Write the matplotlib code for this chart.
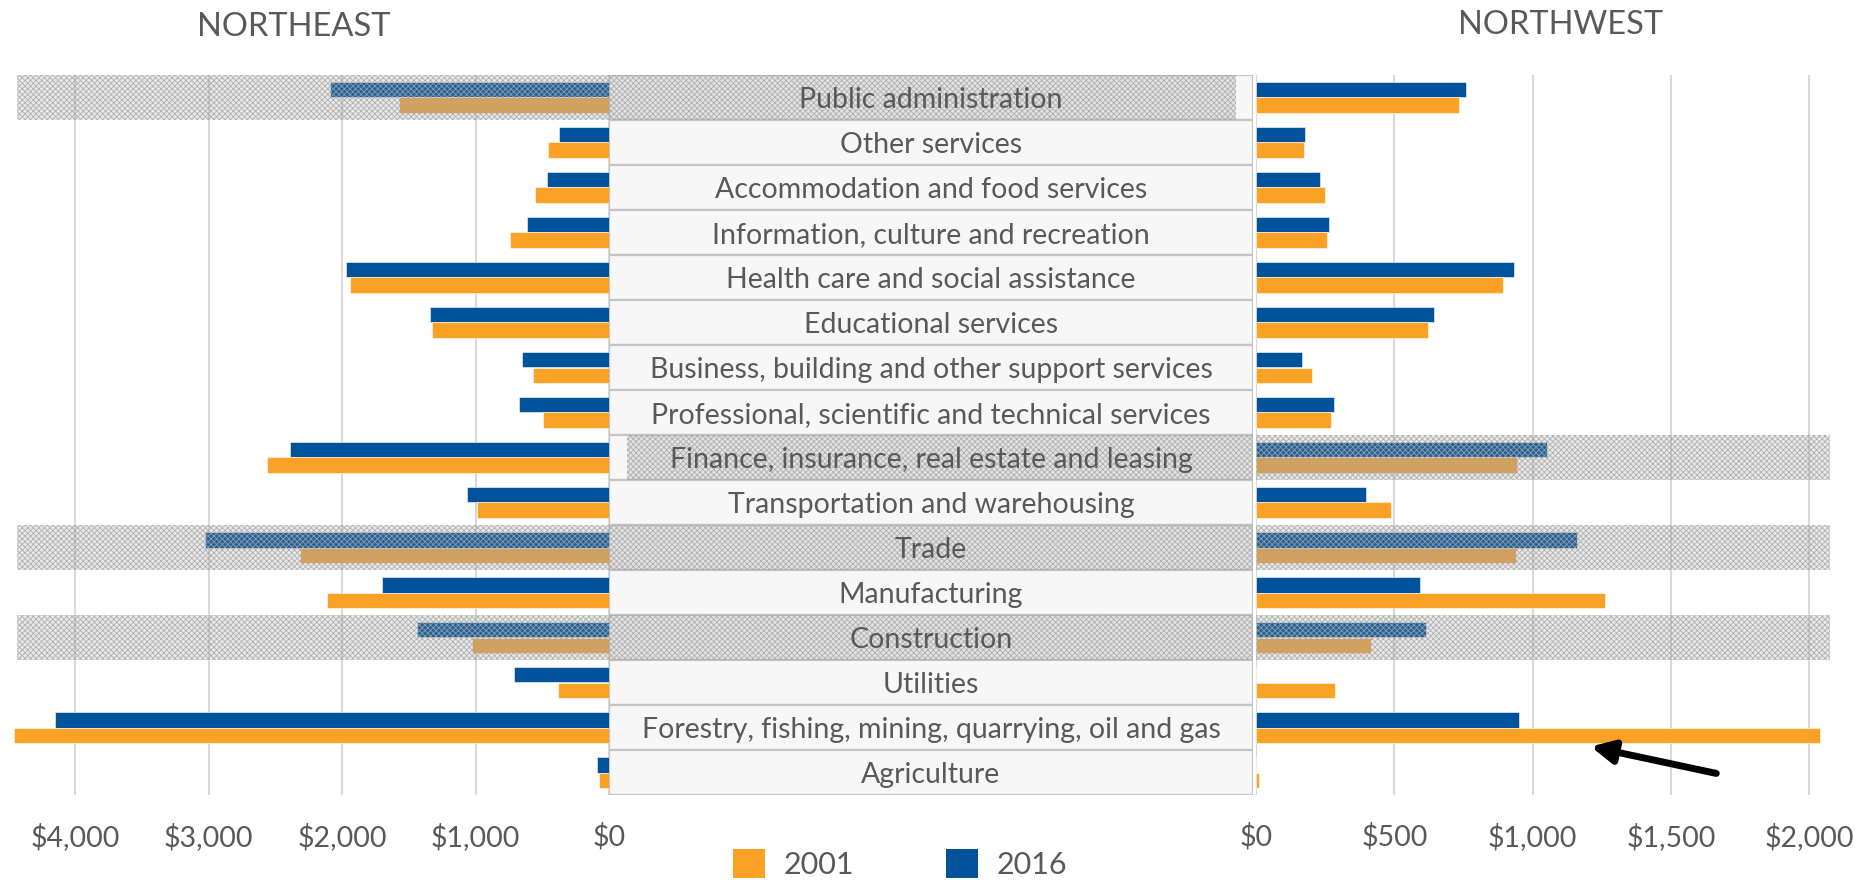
import matplotlib
matplotlib.use("Agg")
import matplotlib.pyplot as plt
from matplotlib.patches import Rectangle, Patch, FancyArrowPatch
from matplotlib.ticker import FuncFormatter

plt.rcParams['font.family'] = ['Lato', 'DejaVu Sans']
plt.rcParams['hatch.linewidth'] = 0.6

# categories, top to bottom
categories = [
    "Public administration",
    "Other services",
    "Accommodation and food services",
    "Information, culture and recreation",
    "Health care and social assistance",
    "Educational services",
    "Business, building and other support services",
    "Professional, scientific and technical services",
    "Finance, insurance, real estate and leasing",
    "Transportation and warehousing",
    "Trade",
    "Manufacturing",
    "Construction",
    "Utilities",
    "Forestry, fishing, mining, quarrying, oil and gas",
    "Agriculture",
]

ne_2001 = [1570, 457, 553, 743, 1943, 1323, 567, 497, 2560, 990, 2317, 2110, 1027, 380, 4460, 73]
ne_2016 = [2093, 373, 463, 617, 1973, 1343, 650, 677, 2393, 1060, 3023, 1703, 1437, 710, 4147, 93]
nw_2001 = [735, 173, 250, 256, 891, 622, 204, 270, 942, 487, 941, 1261, 417, 286, 2039, 12]
nw_2016 = [758, 176, 231, 264, 933, 644, 167, 281, 1053, 399, 1159, 591, 613, 0, 950, 0]

ne_ticks = [4000, 3000, 2000, 1000, 0]
nw_ticks = [0, 500, 1000, 1500, 2000]

# highlighted (hatched) rows
ne_marked = ["Public administration", "Trade", "Construction"]
nw_marked = ["Finance, insurance, real estate and leasing", "Trade", "Construction"]

C01 = '#FBA125'
C16 = '#00529B'
GREY = '#595959'
GRID = '#d9d9d9'

W, H = 1875, 880
fig = plt.figure(figsize=(W / 100, H / 100), dpi=100)

bot = 1 - 795 / H
top = 1 - 75 / H
ax_l = fig.add_axes([10 / W, bot, 599 / W, top - bot])
ax_m = fig.add_axes([609 / W, bot, 644 / W, top - bot])
ax_r = fig.add_axes([1256 / W, bot, 581 / W, top - bot])

y = list(range(len(categories)))
bh = 0.34
y16 = [v - bh / 2 for v in y]
y01 = [v + bh / 2 for v in y]


def hatch_band(ax, row, x0, x1):
    ax.add_patch(Rectangle((x0, row - 0.5), x1 - x0, 1.0,
                           facecolor=(0.6, 0.6, 0.6, 0.22),
                           edgecolor=(0.65, 0.65, 0.65, 0.85),
                           hatch='xxxxxx', lw=0, zorder=4))


fmt = FuncFormatter(lambda v, p: '${:,.0f}'.format(v))

for ax, v01, v16, xl, ticks, marked in [
        (ax_l, ne_2001, ne_2016, (4487, 0), ne_ticks, ne_marked),
        (ax_r, nw_2001, nw_2016, (0, 2100), nw_ticks, nw_marked)]:
    ax.barh(y16, v16, height=bh, color=C16, edgecolor='white', lw=0.4, zorder=3)
    ax.barh(y01, v01, height=bh, color=C01, edgecolor='white', lw=0.4, zorder=3)
    ax.set_xlim(*xl)
    ax.set_ylim(len(categories) - 0.5, -0.5)
    ax.set_xticks(ticks)
    ax.xaxis.set_major_formatter(fmt)
    ax.tick_params(axis='x', length=0, pad=20, labelsize=20.5, labelcolor=GREY)
    ax.set_yticks([])
    ax.grid(axis='x', color=GRID, lw=1.5, zorder=0)
    for s in ax.spines.values():
        s.set_visible(False)
    for name in marked:
        i = categories.index(name)
        if ax is ax_l:
            hatch_band(ax, i, 4435, 0)
        else:
            hatch_band(ax, i, 0, 2075)

# label column
ax_m.set_xlim(0, 1)
ax_m.set_ylim(len(categories) - 0.5, -0.5)
ax_m.axis('off')
for i, name in enumerate(categories):
    ax_m.add_patch(Rectangle((0, i - 0.5), 1, 1, facecolor='#f7f7f7',
                             edgecolor='#c4c4c4', lw=1.6, zorder=1))
    ax_m.text(0.5, i + 0.06, name, ha='center', va='center', fontsize=20.5,
              color=GREY, zorder=5)
hatch_band(ax_m, categories.index("Public administration"), 0, 0.974)
hatch_band(ax_m, categories.index("Finance, insurance, real estate and leasing"), 0.028, 1)
hatch_band(ax_m, categories.index("Trade"), 0, 1)
hatch_band(ax_m, categories.index("Construction"), 0, 1)

# panel titles
fig.text(294 / W, 1 - 27 / H, "NORTHEAST", ha='center', va='center',
         fontsize=23.5, color=GREY)
fig.text(1561 / W, 1 - 25 / H, "NORTHWEST", ha='center', va='center',
         fontsize=23.5, color=GREY)

# arrow pointing at the forestry bar
fig.add_artist(FancyArrowPatch(
    (1719 / W, 1 - 774 / H), (1588 / W, 1 - 746 / H),
    transform=fig.transFigure, arrowstyle='-|>', mutation_scale=34,
    color='black', lw=5))

handles = [Patch(facecolor=C01, label='2001'), Patch(facecolor=C16, label='2016')]
fig.legend(handles=handles, loc='center', bbox_to_anchor=(900 / W, 1 - 864 / H),
           ncol=2, frameon=False, fontsize=22, handlelength=1.05, handleheight=1.05,
           columnspacing=3.0, handletextpad=0.6, labelcolor=GREY)

fig.savefig('out.png', dpi=100)
